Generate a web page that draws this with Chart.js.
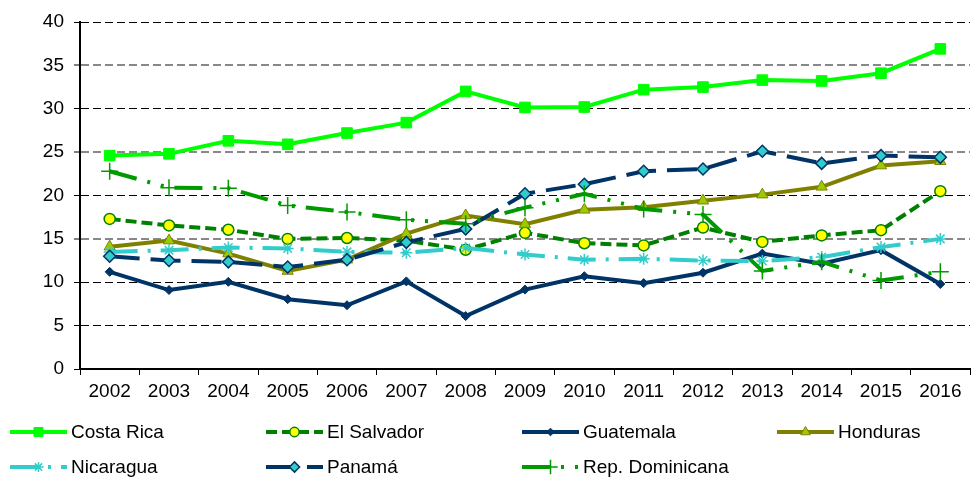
<!DOCTYPE html>
<html><head><meta charset="utf-8">
<script src="https://cdn.jsdelivr.net/npm/chart.js@4/dist/chart.umd.min.js"></script>
<style>
html,body{margin:0;padding:0;overflow:hidden;background:#fff}
#wrap{position:absolute;left:0;top:0;width:980px;height:477px}
</style>
</head><body>
<div id="wrap"><canvas id="c"></canvas></div>
<script>
const years = ['2002','2003','2004','2005','2006','2007','2008','2009','2010','2011','2012','2013','2014','2015','2016'];
const costaRica     = [24.6,24.8,26.3,25.9,27.2,28.4,32.0,30.15,30.2,32.2,32.5,33.3,33.2,34.1,36.9];
const elSalvador    = [17.3,16.55,16.05,15.0,15.1,14.8,13.75,15.7,14.5,14.25,16.3,14.65,15.4,16.0,20.5];
const guatemala     = [11.2,9.1,10.05,8.05,7.35,10.1,6.1,9.15,10.7,9.9,11.1,13.3,12.15,13.7,9.8];
const honduras      = [14.1,14.8,13.3,11.3,12.6,15.6,17.7,16.7,18.35,18.65,19.4,20.1,21.0,23.45,23.95];
const nicaragua     = [13.5,13.7,14.0,13.9,13.5,13.4,13.95,13.2,12.6,12.7,12.5,12.45,12.9,14.05,15.0];
const panama        = [13.0,12.5,12.35,11.75,12.6,14.6,16.15,20.2,21.3,22.8,23.05,25.1,23.7,24.6,24.4];
const repDominicana = [22.8,20.9,20.85,18.85,18.1,17.2,16.75,18.6,20.2,18.45,17.8,11.3,12.35,10.2,11.2];
const seriesNames = ['Costa Rica','El Salvador','Guatemala','Honduras','Nicaragua','Panamá','Rep. Dominicana'];
const yMin = 0, yMax = 40, yStep = 5;

const FONT = '"Liberation Sans", Arial, sans-serif';

const styles = [
  {data: costaRica,     color:'#00FF00', dash:[],               ps:'rect',    r:7.5, bg:'#00FF00', bc:'#00FF00', bw:1},
  {data: elSalvador,    color:'#008000', dash:[11,5],           ps:'circle',  r:5.5, bg:'#FFFF00', bc:'#008000', bw:1.5},
  {data: guatemala,     color:'#003366', dash:[],               ps:'rectRot', r:4.5, bg:'#003366', bc:'#003366', bw:1},
  {data: honduras,      color:'#808000', dash:[],               ps:'triangle',r:6.5, bg:'#99CC00', bc:'#808000', bw:1},
  {data: nicaragua,     color:'#33CCCC', dash:[28,10,3,10],     ps:'star',    r:6,   bg:'#33CCCC', bc:'#33CCCC', bw:1.5},
  {data: panama,        color:'#003366', dash:[30,11],          ps:'rectRot', r:6,   bg:'#33CCCC', bc:'#003366', bw:1.5},
  {data: repDominicana, color:'#009900', dash:[28,11,3,11,3,11],ps:'cross',   r:8.5, bg:'#009900', bc:'#009900', bw:1.5}
];

const datasets = styles.map((s, i) => ({
  label: seriesNames[i],
  data: s.data,
  borderColor: s.color,
  backgroundColor: s.color,
  borderWidth: 4,
  borderDash: s.dash,
  tension: 0,
  fill: false,
  pointStyle: s.ps,
  pointRadius: s.r,
  pointHoverRadius: s.r,
  pointBackgroundColor: s.bg,
  pointBorderColor: s.bc,
  pointBorderWidth: s.bw,
  order: -i,
  clip: false
}));

const legendPlugin = {
  id: 'gridLegend',
  afterDraw(chart) {
    const ctx = chart.ctx;
    const cols = [10, 266, 522, 777];
    const rows = [432, 467];
    chart.data.datasets.forEach((ds, i) => {
      const x = cols[i % 4], y = rows[Math.floor(i / 4)];
      ctx.save();
      ctx.strokeStyle = ds.borderColor;
      ctx.lineWidth = ds.borderWidth;
      ctx.setLineDash(ds.borderDash || []);
      ctx.beginPath(); ctx.moveTo(x, y); ctx.lineTo(x + 57, y); ctx.stroke();
      ctx.setLineDash([]);
      ctx.fillStyle = ds.pointBackgroundColor;
      ctx.strokeStyle = ds.pointBorderColor;
      ctx.lineWidth = ds.pointBorderWidth;
      Chart.helpers.drawPoint(ctx, {pointStyle: ds.pointStyle, radius: ds.pointRadius * 0.85, borderWidth: ds.pointBorderWidth, rotation: 0}, x + 28.5, y);
      ctx.fillStyle = '#000';
      ctx.font = '19px ' + FONT;
      ctx.textBaseline = 'middle';
      ctx.textAlign = 'left';
      ctx.fillText(ds.label, x + 61, y + 1);
      ctx.restore();
    });
  }
};

new Chart(document.getElementById('c'), {
  type: 'line',
  data: { labels: years, datasets },
  options: {
    responsive: true,
    maintainAspectRatio: false,
    devicePixelRatio: 1,
    animation: false,
    layout: { padding: { top: 22, right: 2, left: 0, bottom: 0 } },
    plugins: { legend: { display: false }, tooltip: { enabled: false } },
    scales: {
      x: {
        offset: true,
        grid: { offset: true, drawOnChartArea: false, drawTicks: true, tickLength: 6, tickColor: '#000', tickWidth: 1 },
        border: { display: true, color: '#000', width: 2 },
        ticks: { color: '#000', font: { size: 19, family: FONT }, padding: 5, maxRotation: 0, autoSkip: false },
        afterFit: s => { s.height = 108; }
      },
      y: {
        min: yMin, max: yMax,
        grid: {
          drawOnChartArea: true, drawTicks: true, tickLength: 6, tickColor: '#000', tickWidth: 1,
          color: c => ([15,25,35].includes(c.tick && c.tick.value) ? '#888888' : '#000000'),
          lineWidth: c => ([15,25,35].includes(c.tick && c.tick.value) ? 2 : 1),
          tickBorderDash: []
        },
        border: { display: true, color: '#000', width: 2, dash: [8,4] },
        ticks: { stepSize: yStep, color: '#000', font: { size: 19, family: FONT }, padding: 10 },
        afterFit: s => { s.width = 80; }
      }
    }
  },
  plugins: [legendPlugin]
});
</script>
</body></html>
